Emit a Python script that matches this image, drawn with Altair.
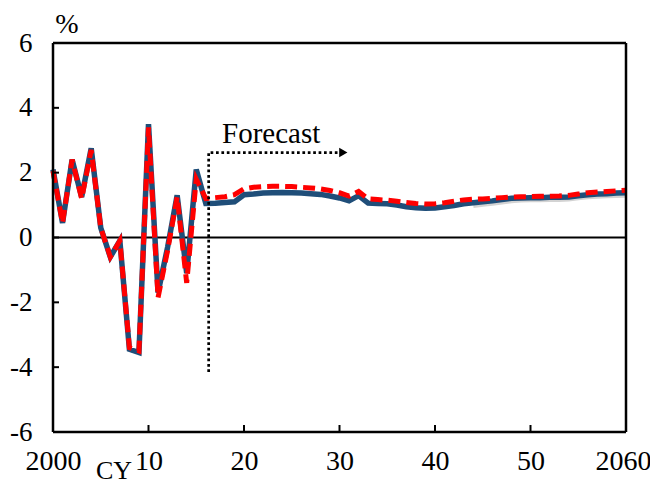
import pandas as pd
import altair as alt

# %% data
years_hist = list(range(2000, 2017))
blue_hist = [2.1, 0.45, 2.4, 1.25, 2.75, 0.3, -0.6, -0.1, -3.45, -3.55, 3.5,
             -1.7, -0.3, 1.3, -1.1, 2.1, 1.05]
red_hist = [2.05, 0.45, 2.4, 1.2, 2.7, 0.3, -0.6, -0.1, -3.4, -3.5, 3.4,
            -1.85, -0.4, 1.25, -1.4, 1.8, 1.2]

years_fc = list(range(2017, 2061))
blue_fc = [1.06, 1.08, 1.1, 1.32, 1.34, 1.37, 1.38, 1.39, 1.38, 1.37, 1.35,
           1.33, 1.28, 1.22, 1.13, 1.29, 1.06, 1.05, 1.04, 1.0, 0.95, 0.92,
           0.9, 0.91, 0.95, 0.99, 1.04, 1.07, 1.1, 1.13, 1.17, 1.21, 1.22,
           1.23, 1.23, 1.24, 1.24, 1.25, 1.29, 1.32, 1.34, 1.35, 1.37, 1.38]
red_fc = [1.23, 1.26, 1.32, 1.5, 1.55, 1.57, 1.58, 1.58, 1.57, 1.55, 1.53,
          1.5, 1.45, 1.38, 1.28, 1.42, 1.19, 1.17, 1.15, 1.12, 1.08, 1.05,
          1.03, 1.04, 1.07, 1.12, 1.16, 1.18, 1.19, 1.21, 1.23, 1.25, 1.26,
          1.26, 1.27, 1.27, 1.28, 1.3, 1.34, 1.38, 1.4, 1.42, 1.44, 1.46]

years_gray = list(range(2044, 2061))
gray_vals = [1.0, 1.04, 1.07, 1.11, 1.15, 1.17, 1.18, 1.18, 1.19, 1.19, 1.2,
             1.24, 1.27, 1.29, 1.3, 1.31, 1.32]

x_ticks = [2000, 2010, 2020, 2030, 2040, 2050, 2060]
y_ticks = [-6, -4, -2, 0, 2, 4, 6]

# forecast marker path (year, %)
fc_x = [2016.3, 2016.3, 2030.0]
fc_y = [-4.15, 2.62, 2.62]

FONT = "Liberation Serif"
W, H = 573, 389

# %%
blue_df = pd.DataFrame({"year": years_hist + years_fc, "v": blue_hist + blue_fc})
red_df = pd.DataFrame({"year": years_hist + years_fc, "v": red_hist + red_fc})
gray_df = pd.DataFrame({"year": years_gray, "v": gray_vals})
path_df = pd.DataFrame({"year": fc_x, "v": fc_y, "o": [0, 1, 2]})

xs = alt.Scale(domain=[2000, 2060], nice=False, zero=False)
ys = alt.Scale(domain=[-6, 6], nice=False)

x_axis = alt.Axis(values=x_ticks, grid=False, domain=False, ticks=False,
                  labelFont=FONT, labelFontSize=28, labelColor="black",
                  labelPadding=15, labelFlush=False, labelOverlap=False, title=None,
                  labelOffset={"expr": "datum.value == 2060 ? -3 : 0"},
                  labelExpr="datum.value == 2000 || datum.value == 2060 ? datum.value : format(datum.value % 100, 'd')")
# plain hyphen for negatives, as in the original
y_axis = alt.Axis(values=y_ticks, grid=False, domain=False, ticks=False,
                  labelFont=FONT, labelFontSize=27, labelColor="black",
                  labelPadding=21, labelFlush=False, labelOverlap=False, title=None,
                  labelExpr="datum.value < 0 ? '-' + abs(datum.value) : '' + datum.value")

X = alt.X("year:Q", scale=xs, axis=x_axis)
Y = alt.Y("v:Q", scale=ys, axis=y_axis)

# plot frame: full-span rules at the domain ends
hframe = alt.Chart(pd.DataFrame({"v": [-6, 6]})).mark_rule(
    color="black", strokeWidth=2.5).encode(y=Y)
vframe = alt.Chart(pd.DataFrame({"year": [2000, 2060]})).mark_rule(
    color="black", strokeWidth=2.5).encode(x=X)

# inward tick marks (6 px long)
yt = alt.Chart(pd.DataFrame({"v": y_ticks})).mark_rule(color="black", strokeWidth=2).encode(
    y=Y, x=alt.value(0), x2=alt.value(6))
xt = alt.Chart(pd.DataFrame({"year": x_ticks})).mark_rule(color="black", strokeWidth=2).encode(
    x=X, y=alt.value(H - 7), y2=alt.value(H))

zero = alt.Chart(pd.DataFrame({"v": [0]})).mark_rule(color="black", strokeWidth=2).encode(y=Y)

gray = alt.Chart(gray_df).mark_line(color="#d3d3d3", strokeWidth=6).encode(x=X, y=Y)

blue = alt.Chart(blue_df).mark_line(color="#1F4E79", strokeWidth=5.5).encode(x=X, y=Y)

red = alt.Chart(red_df).mark_line(color="#FF0000", strokeWidth=5, strokeDash=[12, 6]).encode(x=X, y=Y)

path = alt.Chart(path_df).mark_line(color="black", strokeWidth=2.7, strokeDash=[2.7, 2.7]).encode(
    x=X, y=Y, order="o:Q")

arrow = alt.Chart(pd.DataFrame({"year": [2030.4], "v": [2.62]})).mark_point(
    shape="triangle-right", size=90, filled=True, color="black", opacity=1).encode(x=X, y=Y)

forecast = alt.Chart(pd.DataFrame({"year": [2017.7], "v": [2.92], "t": ["Forecast"]})).mark_text(
    font=FONT, fontSize=29, align="left", baseline="alphabetic", color="black").encode(
    x=X, y=Y, text="t:N")

pct = alt.Chart(pd.DataFrame({"t": ["%"]})).mark_text(
    font=FONT, fontSize=28, align="center", baseline="alphabetic", color="black").encode(
    x=alt.value(14), y=alt.value(-10), text="t:N")

cy = alt.Chart(pd.DataFrame({"t": ["CY"]})).mark_text(
    font=FONT, fontSize=26, align="center", baseline="alphabetic", color="black").encode(
    x=alt.value(61), y=alt.value(436), text="t:N")

chart = (
    alt.layer(zero, gray, blue, red, path, arrow, yt, xt, hframe, vframe, forecast, pct, cy)
    .properties(width=W, height=H,
                autosize=alt.AutoSizeParams(type="none"),
                padding={"left": 45, "top": 35, "right": 24, "bottom": 54})
    .configure(background="white")
    .configure_axis(labelFont=FONT, labelColor="black")
    .configure_view(strokeWidth=0)
)

chart.save("out.html", embed_options={"renderer": "svg", "actions": False})
